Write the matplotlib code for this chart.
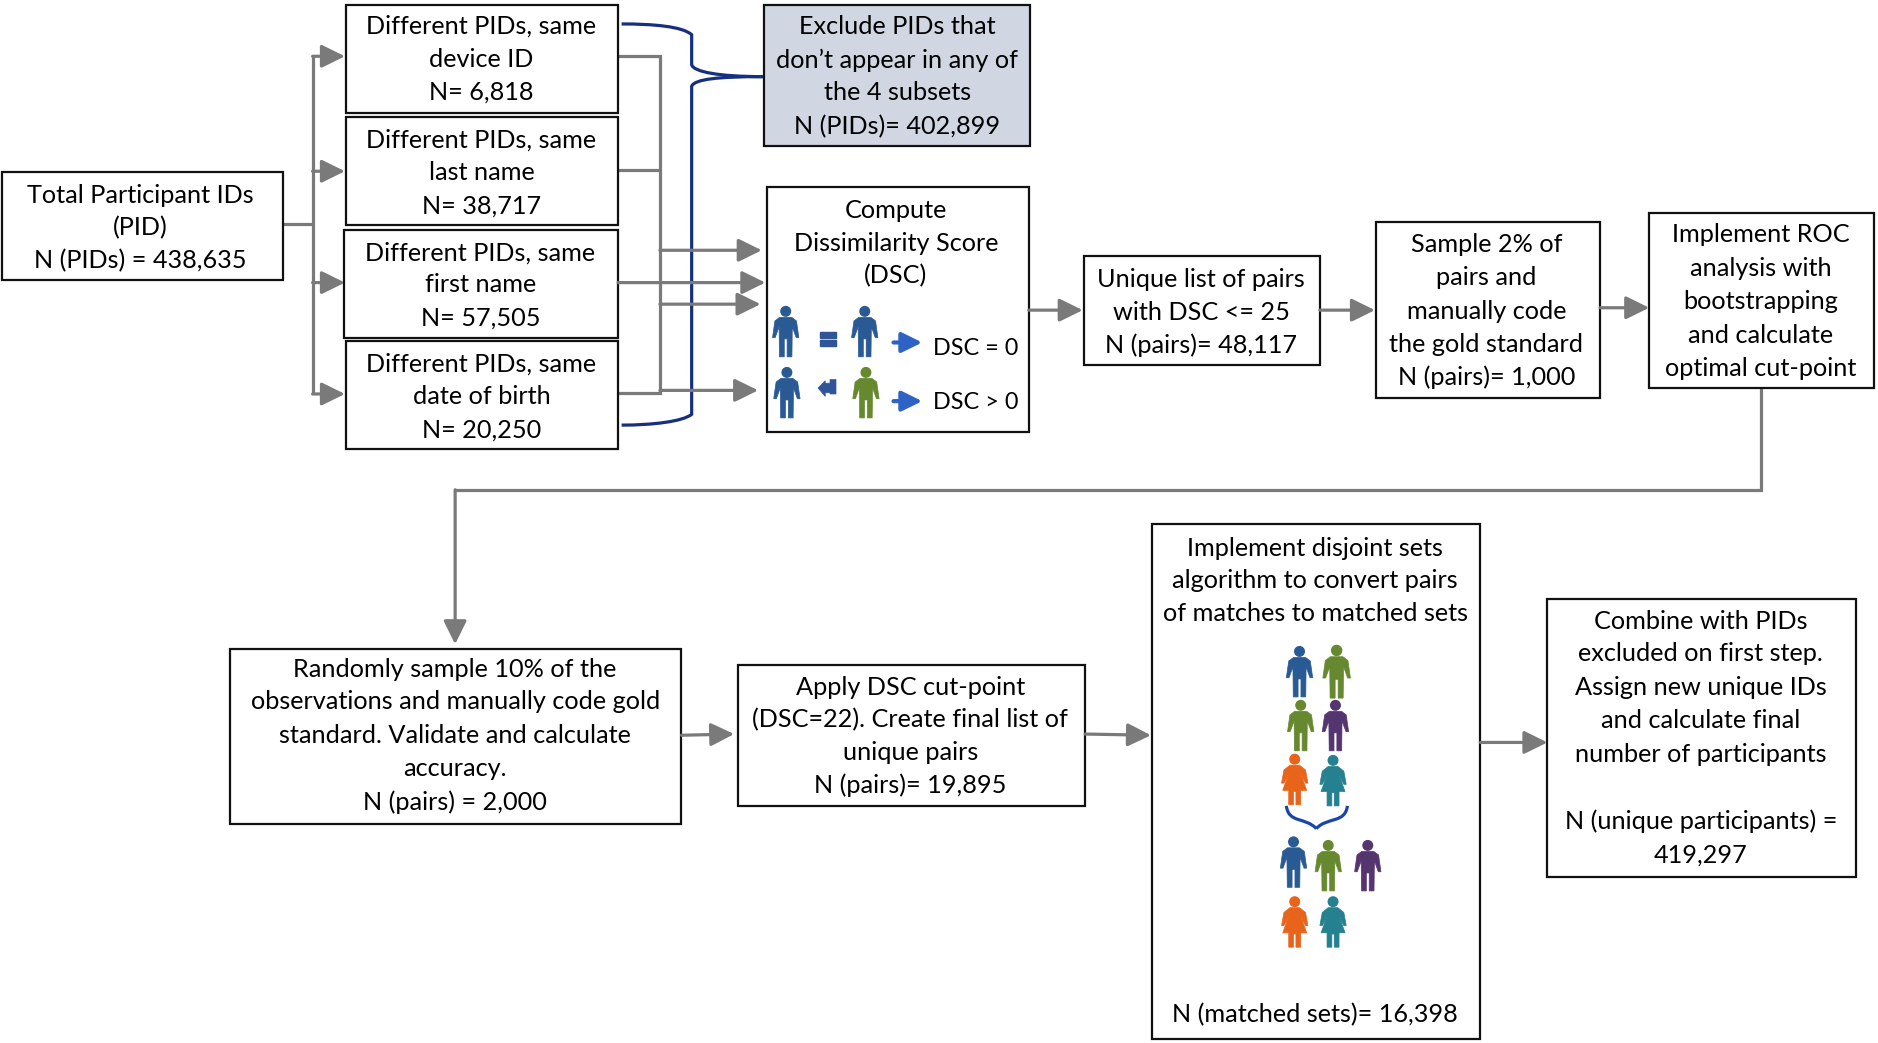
import matplotlib
matplotlib.use('Agg')
import matplotlib.pyplot as plt
from matplotlib.patches import Rectangle, Circle, Polygon, PathPatch
from matplotlib.path import Path

plt.rcParams['font.family'] = ['Lato', 'DejaVu Sans']

GRAY = '#7a7a7a'
NAVY = '#14307f'
BLUE = '#2f5597'
DBLUE = '#2a5a94'
GREEN = '#66892f'
PURPLE = '#55356f'
ORANGE = '#e8641b'
TEAL = '#25808f'
FS = 18.2

# box text
total_txt = ['Total Participant IDs', '(PID)', 'N (PIDs) = 438,635']
device_txt = ['Different PIDs, same', 'device ID', 'N= 6,818']
last_txt = ['Different PIDs, same', 'last name', 'N= 38,717']
first_txt = ['Different PIDs, same', 'first name', 'N= 57,505']
dob_txt = ['Different PIDs, same', 'date of birth', 'N= 20,250']
exclude_txt = ['Exclude PIDs that', 'don’t appear in any of', 'the 4 subsets', 'N (PIDs)= 402,899']
dsc_txt = ['Compute', 'Dissimilarity Score', '(DSC)']
unique_txt = ['Unique list of pairs', 'with DSC <= 25', 'N (pairs)= 48,117']
sample_txt = ['Sample 2% of', 'pairs and', 'manually code', 'the gold standard', 'N (pairs)= 1,000']
roc_txt = ['Implement ROC', 'analysis with', 'bootstrapping', 'and calculate', 'optimal cut-point']
random_txt = ['Randomly sample 10% of the', 'observations and manually code gold', 'standard. Validate and calculate', 'accuracy.', 'N (pairs) = 2,000']
apply_txt = ['Apply DSC cut-point', '(DSC=22). Create final list of', 'unique pairs', 'N (pairs)= 19,895']
disjoint_txt = ['Implement disjoint sets', 'algorithm to convert pairs', 'of matches to matched sets', 'N (matched sets)= 16,398']
combine_txt = ['Combine with PIDs', 'excluded on first step.', 'Assign new unique IDs', 'and calculate final', 'number of participants', 'N (unique participants) =', '419,297']

# x0, y0, x1, y1, text centre x, line y's, text
boxes = [
    (2, 144, 236, 234, 117, [163, 190, 218], total_txt),
    (289, 4, 516, 94, 402, [22, 50, 77], device_txt),
    (289, 98, 516, 188, 402, [117, 144, 172], last_txt),
    (287, 192, 516, 282, 401, [211, 238, 266], first_txt),
    (289, 285, 516, 375, 402, [304, 331, 359], dob_txt),
    (640, 156, 859, 361, 748, [176, 203, 230], dsc_txt),
    (905, 214, 1102, 305, 1003, [233, 261, 288], unique_txt),
    (1149, 185, 1336, 332, 1241, [204, 232, 260, 288, 315], sample_txt),
    (1377, 178, 1565, 324, 1470, [196, 224, 252, 280, 308], roc_txt),
    (192, 542, 569, 688, 380, [559, 586, 614, 642, 670], random_txt),
    (616, 555, 906, 673, 760, [574, 601, 628, 656], apply_txt),
    (962, 438, 1236, 868, 1098, [458, 485, 512, 847], disjoint_txt),
    (1292, 500, 1550, 732, 1420, [519, 546, 574, 602, 630, 686, 714], combine_txt),
]

fig = plt.figure(figsize=(18.78, 10.43), dpi=100)
ax = fig.add_axes([0, 0, 1, 1])
ax.set_xlim(0, 1568)
ax.set_ylim(871, 0)
ax.axis('off')


def line(xs, ys, color=GRAY, lw=2.3):
    ax.plot(xs, ys, color=color, lw=lw, solid_capstyle='butt', solid_joinstyle='miter', zorder=1)


def arrow(x0, y0, x1, y1, color=GRAY, lw=2.3, size=22, z=2):
    ax.annotate('', xy=(x1, y1), xytext=(x0, y0), annotation_clip=False,
                arrowprops=dict(arrowstyle='-|>,head_length=0.65,head_width=0.32', color=color, lw=lw,
                                mutation_scale=size, shrinkA=0, shrinkB=0, zorder=z))


def person(cx, cy, color, female=False, h=42):
    # cx, cy = centre of the figure
    s = h / 42
    top = cy - 21 * s
    ax.add_patch(Circle((cx, top + 4 * s), 4 * s, color=color, zorder=3))
    if female:
        shape = [(-4, 9), (4, 9), (9, 13), (11, 24), (9, 24), (5, 16), (10, 30), (5, 30), (5, 42),
                 (1, 42), (1, 31), (-1, 31), (-1, 42), (-5, 42), (-5, 30), (-10, 30), (-5, 16), (-9, 24),
                 (-11, 24), (-9, 13)]
    else:
        shape = [(-5, 9), (5, 9), (9, 12), (11, 26), (8.8, 26), (5.5, 17), (5.2, 42), (1.2, 42), (1.2, 27),
                 (-1.2, 27), (-1.2, 42), (-5.2, 42), (-5.5, 17), (-8.8, 26), (-11, 26), (-9, 12)]
    pts = [(cx + px * s, top + py * s) for px, py in shape]
    ax.add_patch(Polygon(pts, closed=True, facecolor=color, edgecolor=color, lw=0.5, zorder=3))


def curve(verts, color=NAVY, lw=2.3, z=1.5):
    codes = [Path.MOVETO] + [Path.CURVE4, Path.CURVE4, Path.CURVE4, Path.LINETO] * (len(verts) // 4 + 1)
    ax.add_patch(PathPatch(Path(verts, codes[:len(verts)]), fill=False, edgecolor=color, lw=lw, zorder=z))


# connectors on the left
line([236, 261], [187, 187])
line([261, 261], [47, 329])
for y in [47, 143, 236, 329]:
    arrow(261, y, 288, y)

# collectors
line([516, 551, 551, 516], [47, 47, 328, 328])
line([516, 551], [142, 142])
arrow(516, 236, 639, 236)
arrow(551, 209, 636, 209)
arrow(551, 254, 635, 254)
arrow(551, 326, 633, 326)

# blue brace
curve([(519, 20), (545, 20), (570, 22), (577.5, 29), (577.5, 54),
       (579, 60), (600, 64), (637, 64)])
curve([(637, 64), (600, 64), (580, 66), (577.5, 72), (577.5, 346),
       (570, 352), (545, 355), (519, 355)])

# flow
arrow(859, 259, 904, 259)
arrow(1102, 259, 1148, 259)
arrow(1336, 257, 1377, 257)
line([1470, 1470, 380], [324, 409, 409])
arrow(380, 409, 380, 538)
arrow(569, 614, 613, 613)
arrow(906, 613, 961, 614)
arrow(1236, 620, 1292, 620)

# boxes and text
ax.add_patch(Rectangle((638, 4), 222, 118, facecolor='#d0d7e3', edgecolor='#111111', lw=1.6, zorder=4))
for tx, ty in zip(exclude_txt, [22, 50, 77, 106]):
    ax.text(749, ty, tx, ha='center', va='center', fontsize=FS, color='#000000', zorder=6)
for x0, y0, x1, y1, cx, ys, lines in boxes:
    ax.add_patch(Rectangle((x0, y0), x1 - x0, y1 - y0, facecolor='white', edgecolor='#111111', lw=1.6, zorder=2.5))
    for tx, ty in zip(lines, ys):
        ax.text(cx, ty, tx, ha='center', va='center', fontsize=FS, color='#000000', zorder=6)

# inside the DSC box
person(656, 277, DBLUE)
person(722, 277, DBLUE)
person(657, 328, DBLUE)
person(723, 328, GREEN)
ax.add_patch(Rectangle((685, 277), 13, 5, color=BLUE, zorder=3))
ax.add_patch(Rectangle((685, 284), 13, 5, color=BLUE, zorder=3))
ax.add_patch(Polygon([(683, 324), (689, 318), (689, 320), (693, 320), (693, 317), (698, 317), (698, 329),
                      (693, 329), (693, 328), (689, 328), (689, 331)],
                     closed=True, facecolor=BLUE, edgecolor=BLUE, lw=0.5, zorder=3))
arrow(746, 286, 770, 286, color='#2e62c4', lw=3, size=19, z=3)
arrow(746, 335, 770, 335, color='#2e62c4', lw=3, size=19, z=3)
ax.text(815, 291, 'DSC = 0', ha='center', va='center', fontsize=16.8, color='#000000', zorder=6)
ax.text(815, 336, 'DSC > 0', ha='center', va='center', fontsize=16.8, color='#000000', zorder=6)

# inside the disjoint sets box
person(1085, 561, DBLUE)
person(1116, 561, GREEN, h=44)
person(1086, 606, GREEN)
person(1115, 606, PURPLE)
person(1081, 651, ORANGE, True)
person(1113, 652, TEAL, True)
person(1080, 720, DBLUE)
person(1109, 723, GREEN)
person(1142, 723, PURPLE)
person(1081, 770, ORANGE, True)
person(1113, 770, TEAL, True)
curve([(1074, 673), (1076, 688), (1090, 682), (1099, 692)], color='#1c45a8', z=3)
curve([(1125, 673), (1123, 688), (1108, 682), (1099, 692)], color='#1c45a8', z=3)

fig.savefig('out.png', dpi=100)
